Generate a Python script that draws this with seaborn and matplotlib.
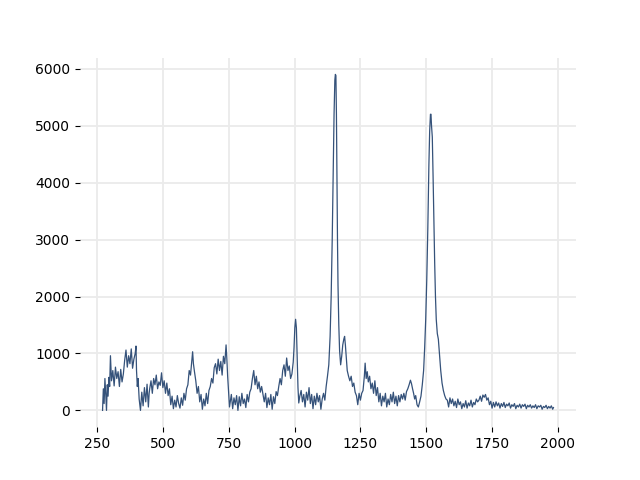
"""Raman-like spectrum: single noisy trace with two sharp bands."""
import matplotlib

matplotlib.use("Agg")
import matplotlib.pyplot as plt  # noqa: E402
import seaborn as sns  # noqa: E402

LINE_COLOR = "#35527a"

# Wavenumber and matching intensity values.
wavenumber = [
    271, 274, 277, 280, 283, 286, 289, 292, 295, 298, 301,
    305, 310, 315, 320, 325, 330, 335, 340, 345, 350,
    355, 360, 365, 370, 375, 380, 385, 390, 395, 398,
    400, 403, 406, 410, 415, 420, 425, 430, 435, 440, 445, 448,
    450, 455, 460, 465, 470, 475, 480, 485, 490, 495, 500, 505, 510, 515, 520, 525,
    530, 535, 540, 545, 550, 555, 560, 565, 570, 575, 580, 585, 590,
    595, 600, 605, 610, 613, 616, 620,
    625, 630, 635, 640, 645, 650, 655, 660, 665, 670, 675,
    680, 685, 690, 695,
    700, 705, 710, 715, 720, 725, 730, 735, 740, 743,
    746, 750, 753, 756,
    760, 765, 770, 775, 780, 785, 790, 795, 800, 805, 810, 815, 820, 825, 830,
    835, 840, 845, 850, 855, 860, 865, 870, 875, 880,
    885, 890, 895, 900, 905, 910, 915, 920, 925, 930, 935, 940,
    945, 950, 955, 960, 965, 970, 975, 980, 985, 990, 995,
    998, 1001, 1004, 1007, 1010, 1013, 1016, 1020,
    1025, 1030, 1035, 1040, 1045, 1050, 1055, 1060, 1065, 1070, 1075,
    1080, 1085, 1090, 1095, 1100, 1105, 1110, 1115, 1120, 1125,
    1130, 1135, 1139, 1143, 1147, 1150, 1153, 1155, 1157, 1159, 1161, 1163,
    1165, 1168, 1171, 1175, 1179, 1183, 1187, 1190, 1193, 1197,
    1200, 1205, 1210, 1215, 1220, 1225, 1230, 1235, 1240, 1245, 1250,
    1255, 1260, 1265, 1268, 1272, 1276, 1280, 1285, 1290, 1295, 1300,
    1305, 1310, 1315, 1320, 1325, 1330, 1335, 1340, 1345, 1350,
    1355, 1360, 1365, 1370, 1375, 1380, 1385, 1390, 1395, 1400,
    1405, 1410, 1415, 1420, 1425, 1430, 1435, 1440, 1444, 1448, 1452,
    1456, 1460, 1465, 1470, 1475, 1480, 1485, 1490, 1494, 1498,
    1502, 1506, 1510, 1513, 1516, 1518, 1520, 1523, 1526, 1529, 1532,
    1535, 1538, 1542, 1546, 1550, 1555, 1560, 1565, 1570, 1575,
    1580, 1585, 1590, 1595, 1600, 1605, 1610, 1615, 1620, 1625, 1630,
    1635, 1640, 1645, 1650, 1655, 1660, 1665, 1670, 1675, 1680, 1685,
    1690, 1695, 1700, 1705, 1710, 1715, 1720, 1725, 1730, 1735, 1740,
    1745, 1750, 1755, 1760, 1765, 1770, 1775, 1780, 1785, 1790, 1795,
    1800, 1805, 1810, 1815, 1820, 1825, 1830, 1835, 1840, 1845, 1850,
    1855, 1860, 1865, 1870, 1875, 1880, 1885, 1890, 1895, 1900, 1905,
    1910, 1915, 1920, 1925, 1930, 1935, 1940, 1945, 1950, 1955, 1960,
    1965, 1970, 1975, 1980, 1983,
]

intensity = [
    0, 380, 120, 560, 300, 0, 450, 250, 580, 420, 960,
    520, 700, 430, 760, 560, 680, 420, 720, 500, 640,
    880, 1060, 760, 960, 820, 1080, 740, 900, 1000, 1130,
    700, 420, 560, 200, 0, 320, 80, 400, 150, 460, 60, 300,
    380, 520, 300, 560, 450, 620, 380, 500, 440, 660, 400, 520, 300, 480, 260, 380,
    100, 250, 30, 180, 60, 260, 120, 40, 220, 90, 300, 180, 380,
    450, 700, 620, 880, 1030, 820, 680,
    520, 300, 420, 150, 280, 20, 200, 80, 300, 120, 350,
    420, 560, 480, 750,
    820, 640, 900, 700, 860, 620, 950, 820, 1150, 900,
    600, 300, 60, 150,
    280, 30, 220, 100, 260, 0, 240, 80, 300, 120, 200, 50, 280, 150, 320,
    380, 560, 700, 450, 600, 380, 500, 320, 420, 280,
    150, 300, 50, 220, 100, 280, 20, 240, 120, 330, 260, 420,
    560, 450, 700, 800, 600, 920, 700, 780, 560, 640, 850,
    1100, 1450, 1600, 1450, 900, 400, 130, 250,
    350, 150, 280, 60, 320, 180, 400, 120, 280, 30, 250,
    100, 300, 150, 260, 20, 200, 300, 180, 420, 600,
    800, 1300, 2000, 3000, 4300, 5200, 5800, 5900, 5880, 5200, 4000, 3000,
    2200, 1500, 1050, 800, 950, 1150, 1250, 1300, 1150, 900,
    700, 600, 520, 600, 420, 480, 320, 260, 100, 300, 180,
    300, 350, 600, 830, 560, 680, 500, 600, 380, 480, 300,
    520, 260, 400, 150, 300, 80, 250, 150, 300, 60,
    200, 100, 280, 150, 320, 120, 250, 80, 260, 150,
    280, 200, 300, 180, 330, 380, 450, 530, 470, 380, 300,
    200, 260, 100, 60, 150, 250, 450, 700, 1100, 1600,
    2300, 3200, 4300, 4900, 5200, 5200, 5000, 4800, 4100, 3300, 2600,
    2000, 1600, 1350, 1250, 1000, 700, 480, 350, 260, 200,
    180, 60, 220, 120, 200, 80, 160, 50, 200, 100, 150,
    30, 120, 60, 170, 40, 130, 80, 180, 60, 140, 100,
    200, 150, 180, 250, 160, 270, 230, 280, 180, 220, 100,
    160, 40, 140, 60, 150, 80, 130, 40, 120, 70, 140,
    50, 110, 80, 130, 40, 100, 70, 120, 30, 90, 60,
    110, 40, 100, 70, 110, 30, 90, 60, 100, 40, 80,
    50, 100, 30, 80, 60, 90, 20, 70, 50, 90, 30,
    70, 40, 80, 20, 50,
]

X_TICKS = [250, 500, 750, 1000, 1250, 1500, 1750, 2000]
Y_TICKS = [0, 1000, 2000, 3000, 4000, 5000, 6000]


def main():
    fig, ax = plt.subplots(figsize=(6.4, 4.8), dpi=100)
    sns.lineplot(x=wavenumber, y=intensity, sort=False, color=LINE_COLOR,
                 linewidth=0.9, ax=ax)
    ax.set_xticks(X_TICKS)
    ax.set_yticks(Y_TICKS)
    ax.grid(True, color="#ebebeb", linewidth=1.3)
    ax.set_axisbelow(True)
    sns.despine(ax=ax, left=True, bottom=True)
    ax.tick_params(colors="black", length=3.5)
    fig.savefig("out.png", dpi=100)
    plt.close(fig)


if __name__ == "__main__":
    main()
